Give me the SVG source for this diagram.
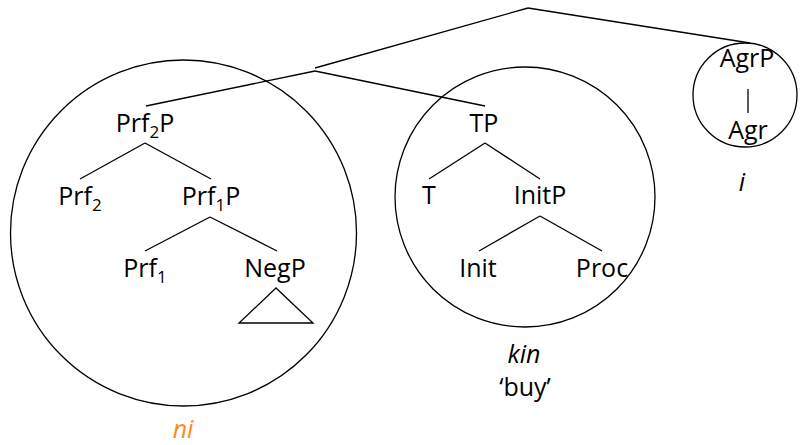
<svg xmlns="http://www.w3.org/2000/svg" width="801" height="445" viewBox="0 0 801 445">
  <style>
    .lbl { font-family: "Open Sans", "Liberation Sans", sans-serif; font-size: 25px; fill: #000; text-anchor: middle; }
    .sub { font-size: 17px; }
    .it { font-style: italic; }
    .ni { fill: #FF8A1E; }
    .edge { stroke: #000; stroke-width: 1.3; fill: none; }
    .span { stroke: #000; stroke-width: 1.3; fill: none; }
  </style>
  <rect width="801" height="445" fill="#fff"/>

  <!-- spans grouping the exponents -->
  <g id="spans">
    <circle class="span" cx="183.5" cy="233" r="173"/>
    <circle class="span" cx="525" cy="197" r="130"/>
    <circle class="span" cx="745" cy="95" r="52"/>
  </g>

  <!-- tree branches -->
  <g id="connectors">
    <line class="edge" x1="528" y1="8" x2="315" y2="68"/>
    <line class="edge" x1="528" y1="8" x2="750" y2="43"/>
    <line class="edge" x1="315" y1="71" x2="146" y2="106"/>
    <line class="edge" x1="315" y1="71" x2="485" y2="106"/>
    <line class="edge" x1="145" y1="143" x2="80" y2="179"/>
    <line class="edge" x1="145" y1="143" x2="211" y2="179"/>
    <line class="edge" x1="210" y1="217" x2="145" y2="251"/>
    <line class="edge" x1="210" y1="217" x2="277" y2="251"/>
    <line class="edge" x1="485" y1="143" x2="429" y2="179"/>
    <line class="edge" x1="485" y1="143" x2="540" y2="179"/>
    <line class="edge" x1="540" y1="216" x2="479" y2="251"/>
    <line class="edge" x1="540" y1="216" x2="602" y2="251"/>
    <line class="edge" x1="748" y1="89" x2="748" y2="113"/>
  </g>

  <g id="prf2p"><text class="lbl" x="145" y="132">Prf<tspan class="sub" dy="6">2</tspan><tspan dy="-6">P</tspan></text></g>
  <g id="prf2"><text class="lbl" x="80" y="205">Prf<tspan class="sub" dy="6">2</tspan></text></g>
  <g id="prf1p"><text class="lbl" x="211" y="205">Prf<tspan class="sub" dy="6">1</tspan><tspan dy="-6">P</tspan></text></g>
  <g id="prf1"><text class="lbl" x="145" y="277">Prf<tspan class="sub" dy="6">1</tspan></text></g>
  <g id="negp">
    <text class="lbl" x="275" y="277">NegP</text>
    <polygon class="edge" points="276,288 239,323 313,323"/>
  </g>
  <g id="tp"><text class="lbl" x="484" y="132">TP</text></g>
  <g id="t"><text class="lbl" x="429" y="204">T</text></g>
  <g id="initp"><text class="lbl" x="540" y="204">InitP</text></g>
  <g id="init"><text class="lbl" x="478" y="277">Init</text></g>
  <g id="proc"><text class="lbl" x="602" y="277">Proc</text></g>
  <g id="agrp"><text class="lbl" x="747" y="67">AgrP</text></g>
  <g id="agr"><text class="lbl" x="748" y="139">Agr</text></g>

  <!-- exponents -->
  <g id="exp-i"><text class="lbl it" x="742" y="191">i</text></g>
  <g id="exp-kin">
    <text class="lbl it" x="524" y="363">kin</text>
    <text class="lbl" x="525" y="396">‘buy’</text>
  </g>
  <g id="exp-ni"><text class="lbl it ni" x="183" y="438">ni</text></g>
</svg>
